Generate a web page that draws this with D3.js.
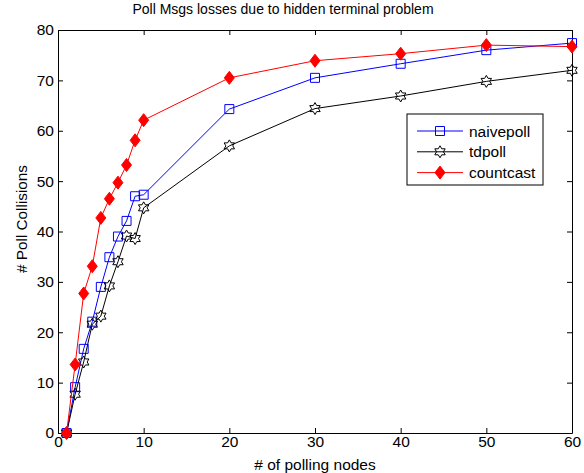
<!DOCTYPE html>
<html>
<head>
<meta charset="utf-8">
<script src="https://cdn.jsdelivr.net/npm/d3@7"></script>
<style>
  body { margin: 0; background: #fff; }
  text { font-family: "Liberation Sans", Arial, sans-serif; }
</style>
</head>
<body>
<div id="chart-area"></div>
<script>
var w = 584;
var h = 473;

// data
const nodes = [1, 2, 3, 4, 5, 6, 7, 8, 9, 10, 20, 30, 40, 50, 60];
const naivepoll = [0, 9.1, 16.7, 22.1, 29, 34.9, 39, 42.1, 47, 47.3, 64.3, 70.5, 73.3, 76, 77.4];
const tdpoll = [0, 7.7, 14.1, 21.6, 23.2, 29.2, 34, 39.1, 38.6, 44.7, 57, 64.4, 66.9, 69.8, 72];
const countcast = [0, 13.6, 27.7, 33.1, 42.7, 46.5, 49.7, 53.2, 58.1, 62.1, 70.5, 73.9, 75.3, 77, 76.7];
const xTicks = [0, 10, 20, 30, 40, 50, 60];
const yTicks = [0, 10, 20, 30, 40, 50, 60, 70, 80];

var margin = {top: 30, right: 12, bottom: 40, left: 58};
var width = w - margin.left - margin.right;
var height = h - margin.top - margin.bottom;

var svg = d3.select("#chart-area").append("svg")
    .attr("width", w)
    .attr("height", h);

var x = d3.scaleLinear().domain([0, 60]).range([0, width]);
var y = d3.scaleLinear().domain([0, 80]).range([height, 0]);

const g = svg.append("g")
    .attr("transform", `translate(${margin.left}, ${margin.top})`);

// axes, MATLAB style: ticks inward on all four sides
function styleAxis(sel) {
    sel.select(".domain").attr("stroke", "#000").attr("stroke-width", 1);
    sel.selectAll(".tick line").attr("stroke", "#000");
    sel.selectAll(".tick text").attr("font-size", "15.5px").attr("fill", "#000")
        .attr("font-family", "Liberation Sans, Arial, sans-serif");
}

g.append("g")
    .attr("transform", "translate(0," + height + ")")
    .call(d3.axisBottom(x).tickValues(xTicks).tickSizeInner(-5).tickSizeOuter(0).tickPadding(3))
    .call(styleAxis);
g.append("g")
    .call(d3.axisTop(x).tickValues(xTicks).tickSizeInner(-5).tickSizeOuter(0).tickFormat(""))
    .call(styleAxis);
g.append("g")
    .call(d3.axisLeft(y).tickValues(yTicks).tickSizeInner(-5).tickSizeOuter(0).tickPadding(4))
    .call(styleAxis);
g.append("g")
    .attr("transform", "translate(" + width + ",0)")
    .call(d3.axisRight(y).tickValues(yTicks).tickSizeInner(-5).tickSizeOuter(0).tickFormat(""))
    .call(styleAxis);

// titles
svg.append("text")
    .attr("x", 283).attr("y", 14)
    .attr("text-anchor", "middle").attr("font-size", "14px")
    .text("Poll Msgs losses due to hidden terminal problem");
svg.append("text")
    .attr("x", 315).attr("y", 470)
    .attr("text-anchor", "middle").attr("font-size", "15.5px")
    .text("# of polling nodes");
svg.append("text")
    .attr("transform", "translate(27,219) rotate(-90)")
    .attr("text-anchor", "middle").attr("font-size", "15.3px")
    .text("# Poll Collisions");

// marker shapes
function hexagram(r) {
    var pts = [];
    for (var i = 0; i < 12; i++) {
        var a = -Math.PI / 2 + i * Math.PI / 6;
        var rr = (i % 2 === 0) ? r : r / Math.sqrt(3);
        pts.push([rr * Math.cos(a), rr * Math.sin(a)]);
    }
    return "M" + pts.map(p => p[0].toFixed(2) + "," + p[1].toFixed(2)).join("L") + "Z";
}
const markers = {
    square: "M-4.5,-4.5L4.5,-4.5L4.5,4.5L-4.5,4.5Z",
    hexagram: hexagram(6),
    diamond: "M0,-6.5L5,0L0,6.5L-5,0Z"
};

const series = [
    {name: "naivepoll", values: naivepoll, color: "#0000ff", marker: "square", fill: "none"},
    {name: "tdpoll", values: tdpoll, color: "#000000", marker: "hexagram", fill: "none"},
    {name: "countcast", values: countcast, color: "#ff0000", marker: "diamond", fill: "#ff0000"}
];

var line = d3.line()
    .x(d => x(d[0]))
    .y(d => y(d[1]));

series.forEach(function(s) {
    var pts = nodes.map((n, i) => [n, s.values[i]]);
    g.append("path")
        .datum(pts)
        .attr("fill", "none")
        .attr("stroke", s.color)
        .attr("stroke-width", 1)
        .attr("d", line);
    g.selectAll(".m-" + s.name)
        .data(pts)
        .enter().append("path")
        .attr("class", "m-" + s.name)
        .attr("transform", d => "translate(" + x(d[0]) + "," + y(d[1]) + ")")
        .attr("d", markers[s.marker])
        .attr("fill", s.fill)
        .attr("stroke", s.color)
        .attr("stroke-width", 1);
});

// legend
var legend = svg.append("g").attr("transform", "translate(407,114)");
legend.append("rect")
    .attr("width", 136).attr("height", 71)
    .attr("fill", "#fff").attr("stroke", "#000").attr("stroke-width", 1);
series.forEach(function(s, i) {
    var ly = 17 + i * 20.8;
    legend.append("line")
        .attr("x1", 10).attr("x2", 56).attr("y1", ly).attr("y2", ly)
        .attr("stroke", s.color).attr("stroke-width", 1);
    legend.append("path")
        .attr("transform", "translate(33," + ly + ")")
        .attr("d", markers[s.marker])
        .attr("fill", s.fill).attr("stroke", s.color);
    legend.append("text")
        .attr("x", 62).attr("y", ly + 5.5)
        .attr("font-size", "15.5px")
        .text(s.name);
});
</script>
</body>
</html>
